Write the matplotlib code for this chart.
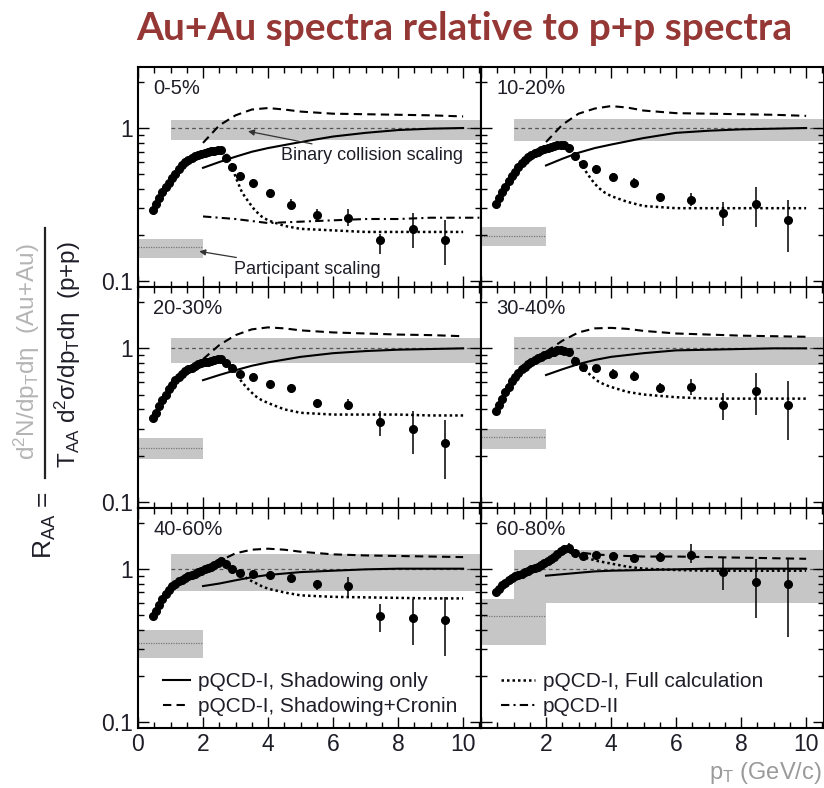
import matplotlib
matplotlib.use("Agg")
import matplotlib.pyplot as plt
from matplotlib.lines import Line2D
from matplotlib.ticker import (LogLocator, MultipleLocator, NullFormatter, FixedLocator,
                               FixedFormatter, FuncFormatter)

plt.rcParams["font.family"] = ["Liberation Sans", "DejaVu Sans"]
plt.rcParams["mathtext.fontset"] = "custom"
plt.rcParams["mathtext.rm"] = "Liberation Sans"
plt.rcParams["mathtext.it"] = "Liberation Sans"

# ---------- data ----------

centralities = ["0-5%", "10-20%", "20-30%", "30-40%", "40-60%", "60-80%"]

lo_pt = [0.45, 0.55, 0.65, 0.75, 0.85, 0.95, 1.05, 1.15, 1.25, 1.35, 1.45,
         1.55, 1.65, 1.75, 1.85, 1.95, 2.05, 2.15, 2.25, 2.35, 2.45, 2.55]
lo_raa = [
    [0.29, 0.32, 0.35, 0.38, 0.41, 0.44, 0.47, 0.50, 0.54, 0.57, 0.60,
     0.62, 0.64, 0.66, 0.67, 0.68, 0.69, 0.70, 0.71, 0.71, 0.72, 0.72],
    [0.32, 0.35, 0.38, 0.41, 0.45, 0.49, 0.52, 0.56, 0.59, 0.62, 0.65,
     0.67, 0.69, 0.70, 0.72, 0.73, 0.74, 0.75, 0.76, 0.77, 0.77, 0.78],
    [0.35, 0.38, 0.42, 0.46, 0.50, 0.54, 0.58, 0.62, 0.65, 0.68, 0.71,
     0.73, 0.75, 0.77, 0.79, 0.80, 0.81, 0.82, 0.83, 0.84, 0.85, 0.85],
    [0.39, 0.43, 0.47, 0.52, 0.56, 0.61, 0.65, 0.69, 0.73, 0.76, 0.79,
     0.82, 0.84, 0.86, 0.88, 0.90, 0.92, 0.94, 0.95, 0.97, 0.98, 0.96],
    [0.49, 0.53, 0.58, 0.63, 0.68, 0.73, 0.77, 0.80, 0.83, 0.85, 0.87,
     0.89, 0.91, 0.93, 0.95, 0.97, 0.99, 1.01, 1.03, 1.06, 1.09, 1.12],
    [0.70, 0.74, 0.78, 0.81, 0.84, 0.87, 0.89, 0.91, 0.93, 0.95, 0.97,
     0.99, 1.01, 1.03, 1.06, 1.09, 1.12, 1.16, 1.20, 1.25, 1.30, 1.35],
]

hi_pt = [2.7, 2.9, 3.15, 3.55, 4.05, 4.7, 5.5, 6.45, 7.45, 8.45, 9.45]
hi_raa = [
    [0.64, 0.56, 0.49, 0.44, 0.376, 0.317, 0.27, 0.26, 0.185, 0.22, 0.187],
    [0.74, 0.66, 0.58, 0.54, 0.48, 0.44, 0.354, 0.34, 0.28, 0.32, 0.25],
    [0.80, 0.74, 0.68, 0.65, 0.585, 0.55, 0.44, 0.43, 0.33, 0.30, 0.24],
    [0.94, 0.83, 0.755, 0.74, 0.68, 0.66, 0.55, 0.56, 0.43, 0.53, 0.43],
    [1.08, 1.00, 0.94, 0.93, 0.91, 0.87, 0.79, 0.77, 0.49, 0.48, 0.46],
    [1.37, 1.27, 1.21, 1.22, 1.21, 1.18, 1.20, 1.22, 0.95, 0.82, 0.79],
]
hi_err_lo = [
    [0.03, 0.03, 0.025, 0.025, 0.025, 0.02, 0.02, 0.03, 0.035, 0.055, 0.06],
    [0.03, 0.03, 0.03, 0.03, 0.03, 0.03, 0.025, 0.03, 0.05, 0.095, 0.095],
    [0.04, 0.035, 0.035, 0.035, 0.035, 0.035, 0.03, 0.035, 0.063, 0.094, 0.10],
    [0.05, 0.04, 0.04, 0.04, 0.05, 0.05, 0.04, 0.06, 0.087, 0.165, 0.177],
    [0.05, 0.04, 0.04, 0.05, 0.05, 0.06, 0.06, 0.13, 0.105, 0.16, 0.19],
    [0.10, 0.08, 0.06, 0.06, 0.06, 0.07, 0.08, 0.13, 0.225, 0.34, 0.43],
]
hi_err_hi = [
    [0.03, 0.03, 0.025, 0.025, 0.025, 0.025, 0.025, 0.035, 0.02, 0.06, 0.065],
    [0.03, 0.03, 0.03, 0.03, 0.03, 0.03, 0.025, 0.035, 0.05, 0.09, 0.09],
    [0.04, 0.035, 0.035, 0.035, 0.035, 0.035, 0.03, 0.04, 0.06, 0.09, 0.10],
    [0.05, 0.04, 0.04, 0.04, 0.05, 0.05, 0.045, 0.07, 0.08, 0.165, 0.18],
    [0.05, 0.04, 0.04, 0.05, 0.05, 0.06, 0.06, 0.115, 0.10, 0.155, 0.19],
    [0.10, 0.08, 0.06, 0.06, 0.06, 0.07, 0.08, 0.22, 0.23, 0.34, 0.36],
]

# pQCD-I, shadowing only
shad_pt = [2, 2.5, 3, 3.5, 4, 5, 6, 7, 8, 9, 10]
shad_raa = [
    [0.55, 0.60, 0.65, 0.70, 0.74, 0.81, 0.88, 0.93, 0.97, 0.99, 1.00],
    [0.57, 0.63, 0.69, 0.74, 0.78, 0.86, 0.93, 0.96, 0.98, 0.99, 1.00],
    [0.62, 0.67, 0.72, 0.77, 0.81, 0.88, 0.93, 0.96, 0.98, 0.99, 1.00],
    [0.67, 0.73, 0.79, 0.84, 0.88, 0.93, 0.97, 0.98, 0.99, 1.00, 1.00],
    [0.77, 0.80, 0.84, 0.88, 0.91, 0.95, 0.97, 0.99, 1.00, 1.00, 1.00],
    [0.90, 0.92, 0.94, 0.96, 0.97, 0.98, 0.99, 1.00, 1.00, 1.00, 1.00],
]

# pQCD-I, shadowing + Cronin
cron_pt = [2, 2.5, 3, 3.5, 4, 4.5, 5, 6, 7, 8, 9, 10]
cron_raa = [
    [0.80, 1.04, 1.21, 1.32, 1.35, 1.32, 1.28, 1.24, 1.23, 1.22, 1.21, 1.19],
    [0.81, 1.05, 1.24, 1.34, 1.39, 1.36, 1.30, 1.25, 1.24, 1.23, 1.22, 1.20],
    [0.85, 1.05, 1.22, 1.33, 1.37, 1.35, 1.31, 1.27, 1.25, 1.23, 1.22, 1.20],
    [0.95, 1.12, 1.27, 1.35, 1.36, 1.34, 1.30, 1.25, 1.23, 1.21, 1.20, 1.19],
    [0.98, 1.12, 1.26, 1.33, 1.35, 1.33, 1.29, 1.24, 1.22, 1.21, 1.20, 1.19],
    [1.05, 1.25, 1.28, 1.24, 1.22, 1.21, 1.20, 1.20, 1.19, 1.18, 1.17, 1.16],
]

# pQCD-I, full calculation
full_pt = [2.6, 2.8, 3.0, 3.2, 3.4, 3.6, 3.8, 4.0, 4.5, 5, 6, 7, 8, 9, 10]
full_raa = [
    [0.72, 0.64, 0.48, 0.38, 0.33, 0.29, 0.265, 0.25, 0.23, 0.22, 0.215, 0.21, 0.21, 0.21, 0.21],
    [0.77, 0.72, 0.62, 0.53, 0.46, 0.41, 0.38, 0.36, 0.33, 0.31, 0.30, 0.30, 0.30, 0.30, 0.30],
    [0.85, 0.79, 0.70, 0.60, 0.54, 0.49, 0.46, 0.44, 0.40, 0.38, 0.37, 0.37, 0.37, 0.365, 0.365],
    [0.98, 0.90, 0.80, 0.72, 0.66, 0.61, 0.58, 0.56, 0.52, 0.50, 0.48, 0.47, 0.47, 0.47, 0.47],
    [1.10, 1.05, 0.98, 0.91, 0.85, 0.81, 0.77, 0.74, 0.70, 0.67, 0.655, 0.65, 0.645, 0.64, 0.64],
    [1.33, 1.28, 1.22, 1.18, 1.15, 1.12, 1.10, 1.08, 1.03, 1.00, 0.98, 0.97, 0.97, 0.97, 0.97],
]

# pQCD-II (only for 0-5%)
pqcd2_pt = [2, 3, 4, 5, 6, 7, 8, 9, 10.5]
pqcd2_raa = [0.265, 0.255, 0.24, 0.245, 0.25, 0.255, 0.255, 0.26, 0.26]

# scaling bands: (low, high) and participant-scaling level
binary_band = [(0.84, 1.13), (0.82, 1.15), (0.80, 1.16), (0.78, 1.19), (0.71, 1.25), (0.60, 1.33)]
part_band = [(0.143, 0.189), (0.17, 0.225), (0.19, 0.26), (0.22, 0.30), (0.26, 0.40), (0.32, 0.63)]
part_level = [0.167, 0.197, 0.225, 0.263, 0.33, 0.49]

# ---------- figure ----------

W, H = 824, 788
XMAX = 10.55
YLIM = (0.0914, 2.5)
BAND = "#c6c6c6"
TXT = "#1e1e28"

fig, axes = plt.subplots(3, 2, figsize=(W / 100, H / 100), dpi=100,
                         sharex="col", sharey=True)
fig.subplots_adjust(left=138 / W, right=1.0, top=1 - 67 / H, bottom=1 - 728 / H,
                    hspace=0, wspace=0)

for i, ax in enumerate(axes.flat):
    ax.set_yscale("log")
    ax.set_xlim(0, XMAX)
    ax.set_ylim(*YLIM)

    lo, hi = binary_band[i]
    ax.fill_between([1, XMAX], lo, hi, color=BAND, lw=0, zorder=0)
    plo, phi = part_band[i]
    ax.fill_between([0, 2], plo, phi, color=BAND, lw=0, zorder=0)
    ax.plot([1, XMAX], [1, 1], color="#555555", lw=0.9, ls=(0, (3, 2.5)), zorder=1)
    ax.plot([0, 2], [part_level[i]] * 2, color="#777777", lw=0.9, ls=(0, (1, 1)), zorder=1)

    ax.plot(shad_pt, shad_raa[i], color="k", lw=1.5, zorder=2)
    ax.plot(cron_pt, cron_raa[i], color="k", lw=1.5, ls=(0, (4, 2.5)), zorder=2)
    ax.plot(full_pt, full_raa[i], color="k", lw=1.8, ls=(0, (1, 1.2)), zorder=2)
    if i == 0:
        ax.plot(pqcd2_pt, pqcd2_raa, color="k", lw=1.5, ls=(0, (4, 2, 1, 2)), zorder=2)

    ax.plot(lo_pt, lo_raa[i], "o", color="k", ms=5.5, zorder=3)
    ax.errorbar(hi_pt, hi_raa[i], yerr=[hi_err_lo[i], hi_err_hi[i]], fmt="o",
                color="k", ms=5.5, elinewidth=1.1, capsize=0, zorder=3)

    ax.text(0.045, 0.945, centralities[i], transform=ax.transAxes, fontsize=14.5,
            ha="left", va="top", color=TXT)

    ax.xaxis.set_major_locator(MultipleLocator(2))
    ax.xaxis.set_minor_locator(MultipleLocator(0.5))
    ax.yaxis.set_major_locator(FixedLocator([0.1, 1]))
    ax.yaxis.set_major_formatter(FixedFormatter(["0.1", "1"]))
    ax.yaxis.set_minor_locator(LogLocator(base=10, subs=range(2, 10)))
    ax.yaxis.set_minor_formatter(NullFormatter())
    ax.tick_params(which="both", direction="in", top=True, right=True,
                   labelsize=16.5, colors="k", labelcolor=TXT, width=1)
    ax.tick_params(which="major", length=8)
    ax.tick_params(which="minor", length=4.5)
    for s in ax.spines.values():
        s.set_linewidth(1.5)

for ax in axes.flat:
    ax.label_outer()

# the right-hand column shows no "0" label (it would sit on top of the "10")
axes[2, 1].xaxis.set_major_formatter(FuncFormatter(lambda v, _: "" if v == 0 else f"{v:g}"))

# annotations in 0-5%
ax0 = axes[0, 0]
arrow = dict(arrowstyle="-|>", color="#333333", lw=0.9, mutation_scale=9)
ax0.annotate("Binary collision scaling", xy=(3.3, 0.96), xytext=(4.4, 0.66),
             fontsize=13, color=TXT, va="center", ha="left", arrowprops=arrow)
ax0.annotate("Participant scaling", xy=(1.8, 0.158), xytext=(2.95, 0.12),
             fontsize=13, color=TXT, va="center", ha="left", arrowprops=arrow)

# legends
solid = Line2D([], [], color="k", lw=1.5)
dashed = Line2D([], [], color="k", lw=1.5, ls=(0, (4, 2.5)))
dotted = Line2D([], [], color="k", lw=1.8, ls=(0, (1, 1.2)))
dashdot = Line2D([], [], color="k", lw=1.5, ls=(0, (4, 2, 1, 2)))
leg_kw = dict(loc="lower left", frameon=False, fontsize=15, handletextpad=0.4,
              labelspacing=0.3, borderaxespad=0.0, labelcolor=TXT)
axes[2, 0].legend([solid, dashed], ["pQCD-I, Shadowing only", "pQCD-I, Shadowing+Cronin"],
                  handlelength=1.25, bbox_to_anchor=(0.05, 0.015), **leg_kw)
axes[2, 1].legend([dotted, dashdot], ["pQCD-I, Full calculation", "pQCD-II"],
                  handlelength=1.6, bbox_to_anchor=(0.035, 0.015), **leg_kw)

# y label built from pieces
fig.text(45 / W, 1 - 525 / H, r"R$_{\rm AA}$ =", rotation=90, fontsize=19,
         ha="center", va="center", color=TXT)
fig.add_artist(Line2D([45 / W, 45 / W], [1 - 228 / H, 1 - 478 / H],
                      color="#222222", lw=1.6, transform=fig.transFigure))
fig.text(27 / W, 1 - 352 / H, "d$^2$N/dp$_{\\rm T}$dη  (Au+Au)", rotation=90,
         fontsize=17.5, ha="center", va="center", color="#b4b4b4")
fig.text(68 / W, 1 - 355 / H, "T$_{\\rm AA}$ d$^2$σ/dp$_{\\rm T}$dη  (p+p)", rotation=90,
         fontsize=17.5, ha="center", va="center", color=TXT)

fig.text(822 / W, 1 - 773 / H, "p$_{\\rm T}$ (GeV/c)", fontsize=17,
         ha="right", va="center", color="#9a9a9a")

fig.text(464 / W, 1 - 28 / H, "Au+Au spectra relative to p+p spectra",
         fontsize=28, fontweight="bold", family=["Lato", "DejaVu Sans"],
         color="#953735", ha="center", va="center")

fig.savefig("out.png", dpi=100)
